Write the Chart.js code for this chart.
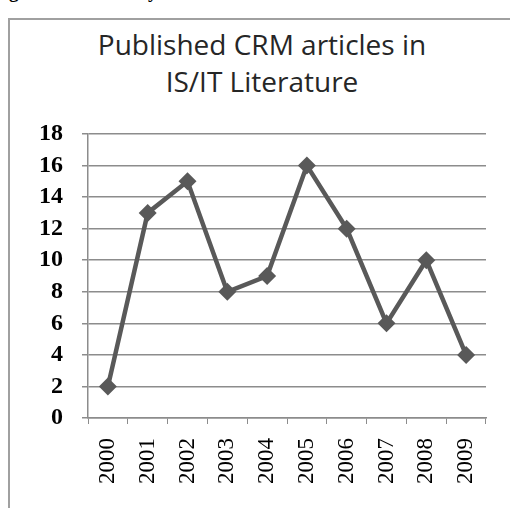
<!DOCTYPE html>
<html>
<head>
<meta charset="utf-8">
<script src="https://cdn.jsdelivr.net/npm/chart.js@4"></script>
<style>
  html, body { margin: 0; padding: 0; background: #fff; }
  body { width: 510px; height: 508px; position: relative; overflow: hidden; }
  #frame { position: absolute; left: 8px; top: 18px; width: 510px; height: 500px;
           border-left: 2px solid #a0a0a0; border-top: 2px solid #a0a0a0; box-sizing: border-box; }
  #caption { position: absolute; left: -8px; top: -19px; white-space: nowrap;
             font: bold 19px "Liberation Serif", serif; color: #000; }
  #title { position: absolute; left: 62px; top: 26px; width: 400px; text-align: center;
           font: 28px "Open Sans", sans-serif; line-height: 37px; color: #262626; }
  canvas { position: absolute; left: 0; top: 0; }
</style>
</head>
<body>
<div id="caption">Figure 1: The Lifecycle of CRM in IS/IT Literature</div>
<div id="frame"></div>
<div id="title">Published CRM articles in<br>IS/IT Literature</div>
<canvas id="c" width="510" height="508"></canvas>
<script>
const years = ["2000","2001","2002","2003","2004","2005","2006","2007","2008","2009"];
const articles = [2, 13, 15, 8, 9, 16, 12, 6, 10, 4];
const yMin = 0, yMax = 18, yStep = 2;

const gridColor = '#8c8c8c';
new Chart(document.getElementById('c'), {
  type: 'line',
  data: {
    labels: years,
    datasets: [{
      data: articles,
      borderColor: '#595959',
      backgroundColor: '#595959',
      borderWidth: 4.5,
      pointStyle: 'rectRot',
      pointRadius: 9,
      pointHoverRadius: 9,
      pointBackgroundColor: '#595959',
      pointBorderWidth: 0,
      tension: 0,
      fill: false
    }]
  },
  options: {
    responsive: false,
    devicePixelRatio: 1,
    animation: false,
    layout: { padding: { left: 8, right: 24, top: 134, bottom: 0 } },
    plugins: { legend: { display: false }, title: { display: false }, tooltip: { enabled: false } },
    scales: {
      x: {
        type: 'category',
        offset: true,
        afterFit: s => { s.height = 90; },
        grid: { display: true, offset: true, drawOnChartArea: false, drawTicks: true, tickLength: 6, color: gridColor },
        border: { display: true, color: gridColor, width: 1.5 },
        ticks: { minRotation: 90, maxRotation: 90, autoSkip: false, padding: 14,
                 font: { family: '"Liberation Serif", serif', size: 23 }, color: '#000' }
      },
      y: {
        min: yMin, max: yMax,
        afterFit: s => { s.width = 80; },
        grid: { color: gridColor, lineWidth: 1.5, tickLength: 6, drawTicks: true },
        border: { display: true, color: gridColor, width: 1.5 },
        ticks: { stepSize: yStep, autoSkip: false, padding: 19,
                 font: { family: '"Liberation Serif", serif', size: 24, weight: 'bold' }, color: '#000' }
      }
    }
  }
});
</script>
</body>
</html>
